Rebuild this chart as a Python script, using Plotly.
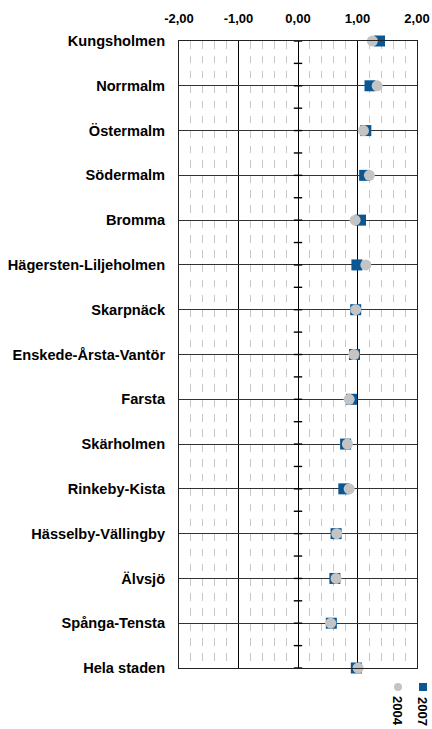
import plotly.graph_objects as go

districts = ["Kungsholmen", "Norrmalm", "Östermalm", "Södermalm", "Bromma",
             "Hägersten-Liljeholmen", "Skarpnäck", "Enskede-Årsta-Vantör", "Farsta",
             "Skärholmen", "Rinkeby-Kista", "Hässelby-Vällingby", "Älvsjö",
             "Spånga-Tensta", "Hela staden"]
v2007 = [1.37, 1.21, 1.14, 1.12, 1.05, 0.99, 0.97, 0.95, 0.90, 0.80, 0.77, 0.64, 0.62, 0.56, 0.98]
v2004 = [1.25, 1.33, 1.10, 1.20, 0.96, 1.14, 0.97, 0.94, 0.86, 0.83, 0.86, 0.65, 0.64, 0.55, 1.01]
series_names = ["2007", "2004"]
x_tick_vals = [-2, -1, 0, 1, 2]
x_tick_text = ["-2,00", "-1,00", "0,00", "1,00", "2,00"]

BLUE = "#0b5794"
GRAY = "#c4c4c4"
FONT = "Liberation Sans"

ypos = list(range(len(districts)))
n = len(districts)

fig = go.Figure()

# tick marks on the central axis (x = 0), at categories and midpoints
half = [i * 0.5 for i in range(2 * (n - 1) + 1)]
fig.add_trace(go.Scatter(
    x=[0] * len(half), y=half, mode="markers", showlegend=False, hoverinfo="skip",
    cliponaxis=False,
    marker=dict(symbol="line-ew", size=6, line=dict(width=1.4, color="#000"))))

fig.add_trace(go.Scatter(
    x=v2007, y=ypos, mode="markers", name=series_names[0], showlegend=False,
    cliponaxis=False,
    marker=dict(symbol="square", size=11, color=BLUE, line=dict(width=0))))
fig.add_trace(go.Scatter(
    x=v2004, y=ypos, mode="markers", name=series_names[1], showlegend=False,
    cliponaxis=False,
    marker=dict(symbol="circle", size=11, color=GRAY, line=dict(width=0))))

fig.update_layout(
    width=432, height=729,
    margin=dict(l=179, r=15, t=41, b=61, autoexpand=False),
    paper_bgcolor="white", plot_bgcolor="white",
    font=dict(family=FONT, color="#000"),
    xaxis=dict(
        range=[-2, 2], side="top", tickvals=x_tick_vals, ticktext=x_tick_text,
        tickfont=dict(family=FONT, size=13, color="#000", weight="bold"),
        ticks="", ticklabelstandoff=12, automargin=False,
        showgrid=True, gridcolor="#000", gridwidth=1, zeroline=False,
        showline=True, mirror=True, linecolor="#222", linewidth=1,
        minor=dict(dtick=0.2, tick0=0, showgrid=True, gridcolor="#c8c8c8",
                   gridwidth=1, griddash="7.5px,7.43px"),
    ),
    yaxis=dict(
        range=[n - 1, 0], tickvals=ypos, ticktext=districts,
        tickfont=dict(family=FONT, size=14.6, color="#000", weight="bold"),
        ticks="", ticklabelstandoff=10, automargin=False,
        showgrid=True, gridcolor="#333", gridwidth=1, zeroline=False,
        showline=True, mirror=True, linecolor="#222", linewidth=1,
    ),
)

# rotated legend
leg = [(series_names[0], BLUE, "rect", 423), (series_names[1], GRAY, "circle", 398)]
for name, col, shp, px in leg:
    xp = (px - 179) / 238
    fig.add_shape(type=shp, xref="paper", yref="paper", xsizemode="pixel", ysizemode="pixel",
                  xanchor=xp, yanchor=(668 - 687) / 627, x0=-4, x1=4, y0=-4, y1=4,
                  fillcolor=col, line=dict(width=0))
    fig.add_annotation(xref="paper", yref="paper", x=xp, y=(668 - 711) / 627,
                       text=name, textangle=90, showarrow=False,
                       xanchor="center", yanchor="middle",
                       font=dict(family=FONT, size=13, color="#000", weight="bold"))

fig.write_html("out.html", config={"displayModeBar": False},
               post_script="document.body.style.margin='0';document.body.style.overflow='hidden';")
